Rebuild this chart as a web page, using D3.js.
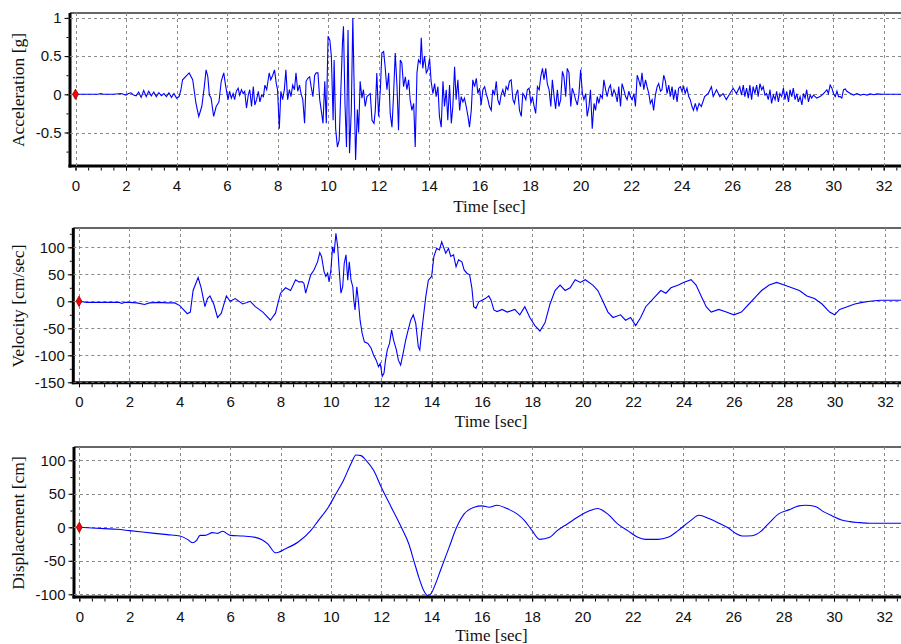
<!DOCTYPE html>
<html>
<head>
<meta charset="utf-8">
<script src="https://cdn.jsdelivr.net/npm/d3@7"></script>
<style>
  body { margin: 0; background: #fff; }
</style>
</head>
<body>
<svg id="chart" width="901" height="644"></svg>
<script>
// values, [time sec, value]
const accel = [
  [0,0],[0.5,0],[0.9,0],[1.0,0.01],[1.1,0],[1.5,0],[1.8,0.01],[2.0,-0.01],[2.1,0.01],[2.2,0.02],
  [2.3,-0.01],[2.4,-0.02],[2.5,0.03],[2.6,-0.04],[2.7,0.05],[2.8,-0.03],[2.9,0.04],[3.0,-0.02],
  [3.1,0.03],[3.2,-0.03],[3.3,0.02],[3.4,-0.02],[3.5,0.01],[3.6,-0.03],[3.7,0.02],[3.8,-0.04],
  [3.9,0.01],[4.0,-0.05],[4.1,-0.03],[4.17,0.05],[4.24,0.19],[4.5,0.28],[4.64,0.19],[4.77,-0.12],
  [4.88,-0.29],[5.0,-0.16],[5.1,0.10],[5.17,0.32],[5.24,0.23],[5.3,-0.01],[5.37,-0.05],[5.47,-0.29],
  [5.57,-0.16],[5.68,-0.10],[5.77,0.17],[5.87,0.28],[5.95,0.10],[6.04,-0.07],[6.1,0.04],[6.17,-0.05],
  [6.24,0.01],[6.3,-0.07],[6.37,0.04],[6.44,0.08],[6.5,-0.01],[6.57,0.06],[6.64,0.01],[6.7,0.04],
  [6.77,-0.18],[6.84,-0.01],[6.9,0.06],[6.97,-0.16],[7.04,0.10],[7.1,-0.14],[7.17,-0.07],[7.24,0.04],
  [7.3,-0.10],[7.37,-0.01],[7.44,-0.03],[7.5,0.12],[7.57,0.06],[7.67,0.28],[7.73,0.19],[7.81,0.25],
  [7.88,0.32],[7.95,0.14],[8.0,0.06],[8.07,-0.45],[8.13,0.04],[8.2,-0.07],[8.27,0.06],[8.33,0.32],
  [8.4,-0.07],[8.47,0.06],[8.53,-0.03],[8.6,0.12],[8.67,0.06],[8.73,0.28],[8.8,0.04],[8.87,0.12],
  [8.93,0.01],[9.0,-0.07],[9.07,-0.38],[9.13,0.17],[9.2,0.21],[9.27,0.23],[9.33,0.10],[9.4,-0.03],
  [9.47,0.25],[9.53,0.28],[9.6,0.28],[9.67,-0.07],[9.73,-0.21],[9.8,-0.38],[9.87,0.17],[9.93,-0.38],
  [10.0,0.76],[10.07,0.71],[10.13,0.50],[10.2,-0.34],[10.24,0.45],[10.3,-0.45],[10.37,-0.69],
  [10.44,-0.60],[10.5,-0.01],[10.57,0.67],[10.61,0.89],[10.67,-0.12],[10.73,-0.69],[10.79,0.84],
  [10.85,-0.77],[10.92,-0.21],[10.98,1.0],[11.05,-0.2],[11.09,-0.86],[11.16,-0.2],[11.21,-0.5],
  [11.27,0.17],[11.34,-0.05],[11.4,0.06],[11.47,-0.16],[11.54,-0.03],[11.6,-0.01],[11.67,0.01],
  [11.74,-0.34],[11.82,-0.38],[11.87,-0.21],[11.93,0.28],[12.0,-0.29],[12.07,0.06],[12.13,0.54],
  [12.2,0.56],[12.26,0.36],[12.33,0.06],[12.4,0.28],[12.46,-0.25],[12.53,-0.43],[12.59,-0.03],
  [12.66,0.54],[12.73,0.10],[12.79,-0.47],[12.86,0.45],[12.92,0.41],[12.99,0.10],[13.06,0.23],
  [13.12,0.06],[13.19,0.19],[13.25,-0.07],[13.32,-0.21],[13.39,-0.12],[13.45,-0.69],[13.52,0.28],
  [13.58,0.45],[13.65,0.41],[13.69,0.74],[13.75,0.34],[13.82,0.50],[13.89,0.28],[13.95,0.32],
  [14.02,0.47],[14.08,0.17],[14.15,0.01],[14.22,0.14],[14.28,-0.03],[14.35,0.10],[14.41,-0.29],
  [14.48,-0.43],[14.55,0.17],[14.61,-0.16],[14.68,0.06],[14.74,-0.34],[14.81,0.12],[14.88,-0.38],
  [14.94,-0.16],[15.01,0.36],[15.07,-0.07],[15.14,0.19],[15.21,-0.21],[15.27,-0.03],[15.34,-0.10],
  [15.4,-0.05],[15.47,-0.16],[15.54,-0.29],[15.6,-0.43],[15.67,-0.21],[15.73,0.19],[15.8,0.10],
  [15.87,0.21],[15.93,0.01],[16.0,0.08],[16.06,-0.14],[16.13,0.06],[16.2,0.10],[16.26,0.01],
  [16.33,-0.07],[16.39,-0.16],[16.46,-0.21],[16.52,0.06],[16.59,-0.01],[16.66,0.17],[16.72,-0.07],
  [16.79,-0.14],[16.85,-0.01],[16.92,0.06],[16.99,-0.03],[17.05,0.10],[17.12,0.06],[17.18,0.17],
  [17.25,0.19],[17.32,-0.07],[17.38,-0.12],[17.45,0.01],[17.51,0.06],[17.58,-0.21],[17.65,-0.29],
  [17.71,0.01],[17.76,-0.01],[17.83,-0.07],[17.89,0.06],[17.96,0.08],[18.03,-0.12],[18.09,-0.03],
  [18.16,-0.16],[18.22,-0.25],[18.29,0.10],[18.36,0.06],[18.42,0.23],[18.49,0.34],[18.55,0.19],
  [18.62,0.34],[18.68,0.14],[18.75,0.06],[18.82,-0.16],[18.88,0.19],[18.95,-0.03],[19.01,-0.19],
  [19.08,0.06],[19.14,-0.16],[19.21,-0.07],[19.28,0.30],[19.34,0.23],[19.41,-0.03],[19.47,0.34],
  [19.54,0.28],[19.61,-0.16],[19.67,0.08],[19.74,0.01],[19.8,-0.07],[19.87,-0.14],[19.93,-0.01],
  [20.0,0.32],[20.07,0.01],[20.13,-0.07],[20.2,0.01],[20.26,-0.29],[20.33,-0.16],[20.39,0.06],
  [20.46,-0.45],[20.53,-0.12],[20.59,-0.21],[20.66,-0.03],[20.72,-0.12],[20.79,-0.01],[20.86,-0.05],
  [20.92,0.19],[20.99,0.06],[21.05,-0.03],[21.12,0.08],[21.18,0.12],[21.25,-0.03],[21.32,0.06],
  [21.38,0.01],[21.45,-0.10],[21.51,0.10],[21.58,-0.16],[21.64,0.14],[21.71,0.06],[21.78,-0.03],
  [21.84,-0.07],[21.91,0.04],[21.97,-0.03],[22.04,-0.07],[22.11,0.01],[22.17,-0.16],[22.24,0.25],
  [22.3,0.19],[22.37,0.10],[22.43,0.28],[22.5,0.06],[22.57,0.19],[22.63,0.10],[22.7,0.01],
  [22.76,-0.12],[22.83,-0.07],[22.89,-0.21],[22.96,-0.01],[23.03,0.10],[23.09,0.14],[23.16,0.04],
  [23.22,0.06],[23.29,0.25],[23.36,0.17],[23.42,0.01],[23.49,0.12],[23.55,-0.03],[23.62,0.10],
  [23.68,-0.07],[23.75,0.06],[23.82,-0.10],[23.88,0.08],[23.95,0.10],[24.01,0.04],[24.08,0.10],
  [24.14,0.01],[24.21,0.08],[24.28,-0.03],[24.34,-0.07],[24.41,-0.16],[24.47,-0.21],[24.54,-0.12],
  [24.61,-0.21],[24.69,-0.12],[24.78,-0.16],[24.91,-0.03],[25.05,0.01],[25.18,0.10],[25.25,-0.03],
  [25.38,0.06],[25.51,-0.03],[25.64,0.01],[25.77,-0.07],[25.91,0.01],[26.04,0.08],[26.17,0.01],
  [26.3,0.10],[26.37,-0.01],[26.44,0.12],[26.5,-0.03],[26.57,0.08],[26.64,-0.05],[26.7,0.12],
  [26.77,-0.07],[26.83,0.10],[26.9,0.01],[26.97,0.12],[27.03,-0.03],[27.1,0.14],[27.17,0.06],
  [27.23,0.10],[27.3,-0.01],[27.36,0.01],[27.43,-0.07],[27.5,0.06],[27.56,-0.12],[27.63,-0.01],
  [27.7,-0.07],[27.76,0.04],[27.83,-0.10],[27.89,0.01],[27.96,-0.03],[28.03,0.08],[28.09,-0.07],
  [28.16,0.04],[28.23,-0.10],[28.29,0.06],[28.36,-0.03],[28.42,0.08],[28.49,-0.07],[28.56,0.01],
  [28.62,-0.10],[28.69,-0.03],[28.76,-0.14],[28.82,0.01],[28.89,-0.05],[28.95,0.06],[29.02,-0.10],
  [29.09,-0.01],[29.15,-0.05],[29.22,-0.01],[29.35,-0.05],[29.48,-0.03],[29.62,0.01],[29.75,0.06],
  [29.81,0.01],[29.88,0.12],[29.95,0.08],[30.01,0.01],[30.08,-0.03],[30.15,0.04],[30.21,-0.03],
  [30.28,-0.03],[30.34,-0.05],[30.41,0.06],[30.48,0.07],[30.54,0.04],[30.68,0.01],[30.81,-0.01],
  [30.94,0.01],[31.07,-0.01],[31.21,0],[31.34,-0.01],[31.47,0.005],[31.6,-0.005],[31.74,0.005],
  [31.93,0],[32.8,0]
];

const velocity = [
  [0,0],[0.3,-2],[1.0,-2],[1.6,-2],[1.7,-4],[1.8,-2],[2.0,-2],[2.3,-3],[2.6,-6],[2.8,-3],[3.2,-2],
  [3.5,-3],[3.8,-3],[4.0,-8],[4.3,-23],[4.42,-20],[4.53,20],[4.73,44],[4.85,25],[5.0,-10],[5.1,5],
  [5.2,10],[5.35,-5],[5.5,-30],[5.65,-22],[5.85,10],[6.0,0],[6.2,5],[6.5,-5],[6.8,0],[7.0,-10],
  [7.3,-20],[7.6,-35],[7.8,-22],[8.0,15],[8.2,25],[8.4,20],[8.6,40],[8.73,36],[8.87,36],[8.93,33],
  [9.0,15],[9.07,27],[9.2,49],[9.33,58],[9.47,73],[9.56,90],[9.63,83],[9.73,55],[9.8,46],[9.87,52],
  [9.93,36],[10.0,58],[10.07,101],[10.13,89],[10.2,126],[10.27,101],[10.33,58],[10.4,15],[10.47,27],
  [10.53,70],[10.6,86],[10.67,39],[10.73,73],[10.8,39],[10.87,27],[10.91,2],[10.96,-16],[11.03,27],
  [11.09,2],[11.16,-35],[11.24,-59],[11.33,-75],[11.47,-78],[11.6,-87],[11.69,-99],[11.8,-109],
  [11.89,-121],[11.96,-115],[12.04,-139],[12.11,-133],[12.17,-109],[12.24,-90],[12.33,-78],
  [12.41,-53],[12.49,-72],[12.6,-90],[12.68,-109],[12.77,-118],[12.87,-96],[12.97,-72],[13.07,-53],
  [13.17,-35],[13.27,-25],[13.37,-41],[13.47,-84],[13.53,-90],[13.6,-59],[13.69,-22],[13.77,9],
  [13.87,39],[14.0,46],[14.09,83],[14.2,98],[14.31,95],[14.4,110],[14.47,101],[14.56,89],[14.67,98],
  [14.76,83],[14.87,86],[14.97,64],[15.07,77],[15.2,73],[15.29,58],[15.4,52],[15.51,49],[15.6,24],
  [15.67,-10],[15.76,-13],[15.87,-1],[16.0,2],[16.13,5],[16.27,10],[16.36,2],[16.47,-16],[16.6,-19],
  [16.8,-15],[17.0,-20],[17.3,-15],[17.5,-25],[17.7,-10],[17.9,-30],[18.1,-45],[18.3,-55],[18.5,-40],
  [18.7,-5],[18.9,20],[19.1,30],[19.3,20],[19.5,25],[19.7,40],[19.9,35],[20.1,40],[20.4,30],[20.6,20],
  [20.8,0],[21.0,-20],[21.2,-30],[21.5,-25],[21.7,-35],[21.9,-30],[22.1,-45],[22.3,-30],[22.5,-10],
  [22.7,0],[22.9,10],[23.1,20],[23.3,15],[23.5,25],[23.8,30],[24.0,35],[24.3,40],[24.5,30],[24.7,10],
  [24.9,-10],[25.1,-20],[25.4,-15],[25.7,-20],[26.0,-25],[26.3,-20],[26.6,-5],[26.9,10],[27.1,20],
  [27.4,30],[27.7,35],[28.0,30],[28.3,25],[28.6,20],[28.9,10],[29.2,5],[29.5,-5],[29.8,-20],
  [30.0,-25],[30.2,-15],[30.5,-10],[30.8,-5],[31.1,-2],[31.4,0],[31.8,2],[32.8,2]
];

const displacement = [
  [0,0],[1.0,-2],[1.5,-3],[2.0,-5],[2.5,-7],[3.0,-9],[3.5,-11],[4.0,-13],[4.3,-18],[4.5,-23],
  [4.65,-20],[4.8,-12],[5.0,-12],[5.3,-8],[5.5,-9],[5.7,-6],[6.0,-12],[6.5,-13],[7.0,-15],[7.5,-25],
  [7.8,-38],[8.2,-32],[8.7,-22],[9.2,-5],[9.5,10],[9.9,30],[10.2,50],[10.5,70],[10.8,95],[11.0,108],
  [11.2,107],[11.4,100],[11.7,85],[12.0,60],[12.4,30],[12.8,0],[13.1,-25],[13.3,-50],[13.5,-75],
  [13.7,-95],[13.85,-102],[14.0,-98],[14.1,-90],[14.4,-60],[14.7,-30],[15.0,0],[15.3,20],[15.7,30],
  [16.0,32],[16.3,30],[16.6,33],[17.0,28],[17.4,20],[17.7,10],[18.0,-5],[18.3,-18],[18.7,-15],
  [19.0,-5],[19.4,5],[19.8,15],[20.3,25],[20.6,28],[21.0,20],[21.4,5],[21.8,-5],[22.2,-15],[22.5,-18],
  [23.0,-18],[23.4,-15],[23.8,-5],[24.3,10],[24.63,18],[25.03,13],[25.43,6],[25.82,-1.5],[26.09,-9],
  [26.35,-13],[26.75,-12.5],[27.08,-6.5],[27.41,6],[27.8,20],[28.2,26],[28.6,32],[28.86,33],
  [29.26,31],[29.6,23],[29.93,17],[30.3,11],[30.63,8.5],[31.03,7],[31.4,6],[32.8,6]
];

const timeTicks = d3.range(0, 33, 2);
const timeMinor = d3.range(0, 32.8, 0.5);
const accTicks = [-0.5, 0, 0.5, 1];
const accMinor = d3.range(-0.75, 1.01, 0.25);
const velTicks = [-150, -100, -50, 0, 50, 100];
const velMinor = d3.range(-150, 126, 25);
const dispTicks = [-100, -50, 0, 50, 100];
const dispMinor = d3.range(-100, 111, 25);

const W = 901;

// layout of each panel (pixel positions of two reference values per axis)
const panels = [
  {data: accel, title: "Acceleration [g]", yTicks: accTicks, yMinor: accMinor, curve: d3.curveLinear,
   yRef: [0, 1], yPx: [94.3, 17.9], xPx: [75.5, 883.7], top: 13, bottom: 166, left: 70, titleY: 90, xTitleY: 212},
  {data: velocity, title: "Velocity [cm/sec]", yTicks: velTicks, yMinor: velMinor, curve: d3.curveLinear,
   yRef: [0, 100], yPx: [301.3, 247.3], xPx: [79, 885], top: 228, bottom: 382.7, left: 73.3, titleY: 306, xTitleY: 427},
  {data: displacement, title: "Displacement [cm]", yTicks: dispTicks, yMinor: dispMinor, curve: d3.curveMonotoneX,
   yRef: [0, 100], yPx: [527.3, 460.3], xPx: [79.3, 884.3], top: 447, bottom: 597, left: 74, titleY: 523, xTitleY: 640.5}
];

const svg = d3.select("#chart");
const tickFont = "'Liberation Sans', Arial, sans-serif";
const titleFont = "'Liberation Serif', 'Times New Roman', serif";

panels.forEach(function(p, i){
    var x = d3.scaleLinear().domain([0, 32]).range(p.xPx);
    var y = d3.scaleLinear().domain(p.yRef).range(p.yPx);
    var g = svg.append("g").attr("class", "panel");

    g.append("clipPath").attr("id", "clip" + i).append("rect")
        .attr("x", p.left).attr("y", p.top)
        .attr("width", W - p.left).attr("height", p.bottom - p.top);

    // frame: thin top line, heavy left and bottom axes
    g.append("line").attr("x1", p.left).attr("x2", W).attr("y1", p.top).attr("y2", p.top)
        .style("stroke", "#333").style("stroke-width", 1.6);
    g.append("line").attr("x1", p.left).attr("x2", p.left).attr("y1", p.top).attr("y2", p.bottom + 1.5)
        .style("stroke", "#000").style("stroke-width", 3);
    g.append("line").attr("x1", p.left - 1.5).attr("x2", W).attr("y1", p.bottom).attr("y2", p.bottom)
        .style("stroke", "#000").style("stroke-width", 3);

    // dashed grid
    var grid = g.append("g").attr("clip-path", "url(#clip" + i + ")")
        .style("stroke", "#8a8a8a").style("stroke-width", 1).style("stroke-dasharray", "3,3");
    grid.selectAll(".vg").data(timeTicks).enter().append("line")
        .attr("x1", d => Math.round(x(d)) + 0.5).attr("x2", d => Math.round(x(d)) + 0.5)
        .attr("y1", p.top).attr("y2", p.bottom);
    grid.selectAll(".hg").data(p.yTicks).enter().append("line")
        .attr("x1", p.left).attr("x2", W)
        .attr("y1", d => Math.round(y(d)) + 0.5).attr("y2", d => Math.round(y(d)) + 0.5);

    // the record
    var line = d3.line().curve(p.curve).x(d => x(d[0])).y(d => y(d[1]));
    g.append("path").datum(p.data)
        .attr("clip-path", "url(#clip" + i + ")")
        .attr("d", line)
        .style("fill", "none").style("stroke", "#0000ff").style("stroke-width", 1.1)
        .style("stroke-linejoin", "miter");

    // red start marker
    g.append("path").datum(p.data[0])
        .attr("d", d3.symbol().type(d3.symbolDiamond).size(30))
        .attr("transform", d => "translate(" + x(d[0]) + "," + y(d[1]) + ")")
        .style("fill", "#ff0000").style("stroke", "#8b0000").style("stroke-width", 0.8);

    // bottom axis ticks and labels
    var xMinorAxis = g.append("g").attr("transform", "translate(0," + (p.bottom + 1.5) + ")")
        .call(d3.axisBottom(x).tickValues(timeMinor).tickSize(3).tickFormat(""));
    var xAxis = g.append("g").attr("transform", "translate(0," + (p.bottom + 1.5) + ")")
        .call(d3.axisBottom(x).tickValues(timeTicks).tickSize(3).tickPadding(9.5).tickFormat(d => String(d)));

    var yMinorAxis = g.append("g").attr("transform", "translate(" + (p.left - 1.5) + ",0)")
        .call(d3.axisLeft(y).tickValues(p.yMinor).tickSize(2).tickFormat(""));
    var yAxis = g.append("g").attr("transform", "translate(" + (p.left - 1.5) + ",0)")
        .call(d3.axisLeft(y).tickValues(p.yTicks).tickSize(4).tickPadding(3).tickFormat(d => String(d)));

    [xMinorAxis, xAxis, yMinorAxis, yAxis].forEach(function(a){
        a.select(".domain").remove();
        a.selectAll(".tick line").style("stroke", "#000");
        a.selectAll("text").style("font-family", tickFont).style("font-size", "15px").style("fill", "#111");
    });

    // titles
    g.append("text")
        .attr("x", (p.left + W) / 2 + 4).attr("y", p.xTitleY)
        .attr("text-anchor", "middle")
        .style("font-family", titleFont).style("font-size", "17px").style("fill", "#111")
        .text("Time [sec]");
    g.append("text")
        .attr("transform", "translate(24," + p.titleY + ") rotate(-90)")
        .attr("text-anchor", "middle")
        .style("font-family", titleFont).style("font-size", "17.5px").style("fill", "#111")
        .text(p.title);
});
</script>
</body>
</html>
